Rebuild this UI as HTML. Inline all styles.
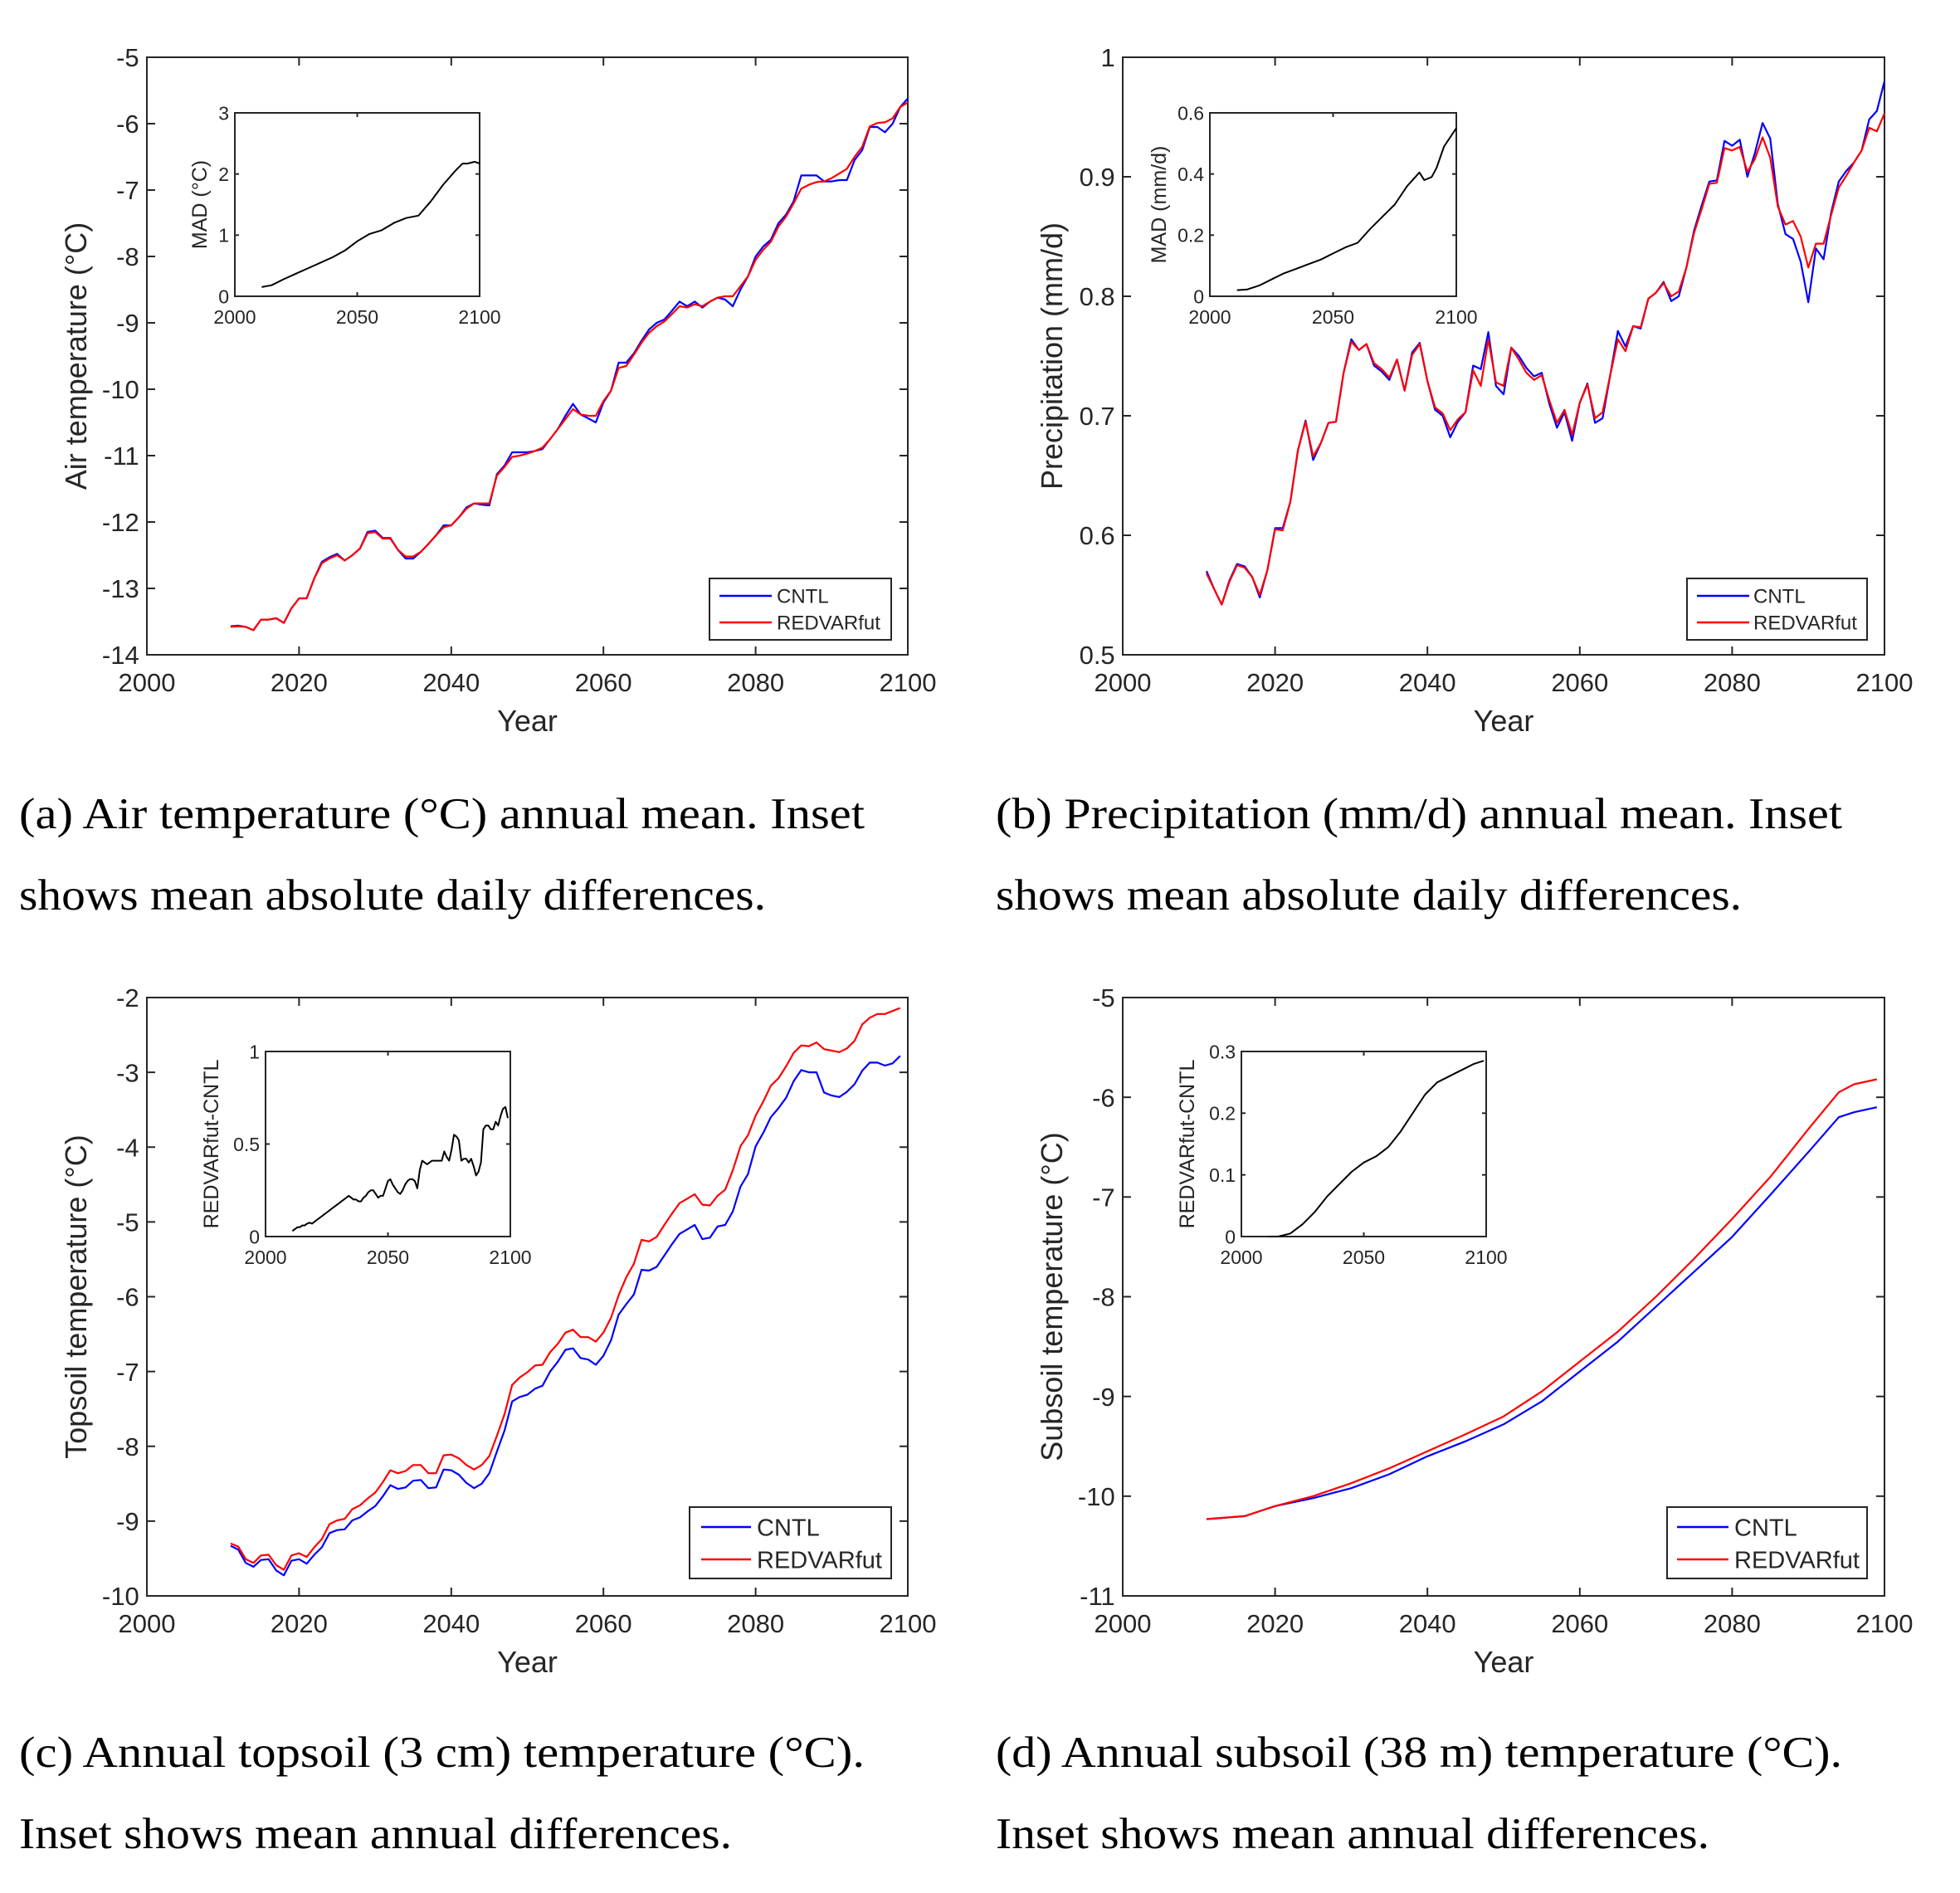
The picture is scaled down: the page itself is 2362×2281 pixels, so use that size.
<!DOCTYPE html>
<html><head><meta charset="utf-8">
<style>
html,body{margin:0;padding:0;background:#fff;}
svg{display:block;}
.tk{font-family:"Liberation Sans",Arial,sans-serif;fill:#262626;}
.cap{font-family:"Liberation Serif","Times New Roman",serif;fill:#000;font-size:53px;}
</style></head>
<body>
<svg id="fig" width="2362" height="2281" viewBox="0 0 2362 2281" xmlns="http://www.w3.org/2000/svg">
<text class="cap" x="23" y="998" textLength="1019" lengthAdjust="spacingAndGlyphs">(a) Air temperature (°C) annual mean. Inset</text>
<text class="cap" x="23" y="1096" textLength="900" lengthAdjust="spacingAndGlyphs">shows mean absolute daily differences.</text>
<text class="cap" x="1200" y="998" textLength="1020" lengthAdjust="spacingAndGlyphs">(b) Precipitation (mm/d) annual mean. Inset</text>
<text class="cap" x="1200" y="1096" textLength="899" lengthAdjust="spacingAndGlyphs">shows mean absolute daily differences.</text>
<text class="cap" x="23" y="2129" textLength="1019" lengthAdjust="spacingAndGlyphs">(c) Annual topsoil (3 cm) temperature (°C).</text>
<text class="cap" x="23" y="2227" textLength="859" lengthAdjust="spacingAndGlyphs">Inset shows mean annual differences.</text>
<text class="cap" x="1200" y="2129" textLength="1020" lengthAdjust="spacingAndGlyphs">(d) Annual subsoil (38 m) temperature (°C).</text>
<text class="cap" x="1200" y="2227" textLength="860" lengthAdjust="spacingAndGlyphs">Inset shows mean annual differences.</text>
</svg>
<script>
// ---- Panel (a) air temperature, years 2011..2100
const yearsA = Array.from({length:90},(_,i)=>2011+i);
const airRed = [-13.58,-13.57,-13.58,-13.63,-13.47,-13.47,-13.45,-13.52,-13.3,-13.15,
-13.15,-12.85,-12.62,-12.55,-12.5,-12.58,-12.5,-12.4,-12.17,-12.15,
-12.25,-12.25,-12.42,-12.52,-12.52,-12.45,-12.33,-12.2,-12.08,-12.05,
-11.93,-11.8,-11.72,-11.72,-11.72,-11.3,-11.17,-11.02,-11.0,-10.97,
-10.93,-10.88,-10.75,-10.6,-10.45,-10.3,-10.38,-10.4,-10.4,-10.18,
-10.02,-9.68,-9.65,-9.48,-9.3,-9.15,-9.05,-8.98,-8.87,-8.75,
-8.77,-8.72,-8.75,-8.68,-8.62,-8.6,-8.6,-8.45,-8.3,-8.05,
-7.9,-7.78,-7.55,-7.4,-7.2,-6.98,-6.92,-6.88,-6.87,-6.82,
-6.75,-6.68,-6.5,-6.35,-6.04,-5.99,-5.98,-5.92,-5.75,-5.68];
const airCntl = [-13.57,-13.56,-13.58,-13.63,-13.47,-13.47,-13.45,-13.52,-13.3,-13.15,
-13.15,-12.85,-12.6,-12.53,-12.48,-12.58,-12.5,-12.4,-12.15,-12.13,
-12.24,-12.24,-12.42,-12.55,-12.55,-12.45,-12.33,-12.2,-12.05,-12.05,
-11.93,-11.78,-11.72,-11.74,-11.75,-11.28,-11.15,-10.95,-10.95,-10.95,
-10.93,-10.9,-10.75,-10.6,-10.4,-10.22,-10.38,-10.44,-10.5,-10.2,
-10.02,-9.6,-9.6,-9.46,-9.27,-9.1,-9.0,-8.95,-8.82,-8.68,
-8.75,-8.68,-8.77,-8.68,-8.62,-8.65,-8.75,-8.5,-8.3,-8.0,
-7.85,-7.75,-7.5,-7.37,-7.17,-6.78,-6.78,-6.78,-6.87,-6.87,
-6.85,-6.85,-6.55,-6.4,-6.05,-6.05,-6.13,-6.0,-5.75,-5.62];
const madAYears = [2011,2015,2020,2025,2030,2035,2040,2045,2050,2055,2060,2065,2070,2075,2080,2085,2090,2093,2095,2098,2100];
const madAVals = [0.15,0.18,0.28,0.37,0.46,0.55,0.64,0.75,0.9,1.02,1.08,1.2,1.28,1.32,1.55,1.82,2.05,2.17,2.17,2.2,2.17];

// ---- Panel (b) precipitation, years 2011..2100
const yearsB = Array.from({length:90},(_,i)=>2011+i);
const prRed = [.568,.555,.542,.561,.575,.573,.565,.55,.571,.605,
.604,.628,.671,.695,.666,.677,.694,.695,.736,.762,
.755,.760,.744,.739,.732,.747,.721,.751,.760,.729,
.707,.702,.688,.697,.703,.738,.725,.764,.728,.725,
.757,.747,.736,.730,.734,.713,.694,.705,.684,.711,
.726,.698,.703,.734,.764,.754,.775,.774,.798,.803,
.811,.800,.804,.824,.853,.873,.894,.895,.924,.922,
.925,.904,.915,.933,.916,.875,.860,.863,.850,.824,
.844,.844,.868,.891,.901,.912,.922,.941,.938,.953];
const prCntl = [.570,.555,.542,.562,.576,.574,.565,.548,.571,.606,
.606,.628,.671,.696,.663,.677,.694,.695,.736,.764,
.755,.760,.742,.737,.730,.747,.721,.753,.761,.729,
.705,.700,.682,.695,.703,.742,.739,.770,.725,.718,
.757,.750,.740,.733,.736,.710,.690,.703,.679,.711,
.727,.694,.698,.734,.771,.758,.775,.773,.798,.803,
.812,.796,.800,.824,.855,.876,.896,.897,.930,.926,
.931,.900,.920,.945,.932,.877,.852,.848,.829,.795,
.840,.831,.870,.896,.905,.912,.922,.948,.955,.980];
const madBYears = [2011,2015,2020,2025,2030,2035,2040,2045,2050,2055,2060,2065,2070,2075,2080,2085,2087,2090,2092,2095,2100];
const madBVals = [0.02,0.022,0.035,0.055,0.075,0.09,0.105,0.12,0.14,0.16,0.175,0.22,0.26,0.3,0.36,0.405,0.38,0.39,0.42,0.49,0.55];

// ---- Panel (c) topsoil, years 2011..2099
const yearsC = Array.from({length:89},(_,i)=>2011+i);
const topRed = [-9.30,-9.34,-9.51,-9.56,-9.46,-9.45,-9.59,-9.65,-9.46,-9.43,
-9.48,-9.35,-9.24,-9.04,-8.99,-8.97,-8.84,-8.79,-8.70,-8.62,
-8.48,-8.32,-8.36,-8.33,-8.25,-8.25,-8.36,-8.36,-8.12,-8.11,
-8.16,-8.25,-8.31,-8.25,-8.13,-7.86,-7.57,-7.18,-7.08,-7.01,
-6.92,-6.91,-6.74,-6.63,-6.48,-6.44,-6.54,-6.54,-6.60,-6.48,
-6.28,-5.98,-5.74,-5.56,-5.24,-5.26,-5.20,-5.04,-4.89,-4.75,
-4.69,-4.63,-4.77,-4.78,-4.65,-4.57,-4.31,-3.99,-3.84,-3.58,
-3.39,-3.18,-3.08,-2.92,-2.74,-2.64,-2.65,-2.60,-2.69,-2.71,
-2.73,-2.68,-2.58,-2.36,-2.27,-2.22,-2.22,-2.18,-2.14];
const topCntl = [-9.33,-9.38,-9.56,-9.61,-9.52,-9.51,-9.66,-9.725,-9.53,-9.51,
-9.57,-9.45,-9.35,-9.16,-9.12,-9.11,-8.99,-8.95,-8.87,-8.80,
-8.67,-8.52,-8.57,-8.55,-8.46,-8.45,-8.56,-8.55,-8.31,-8.32,
-8.38,-8.49,-8.56,-8.50,-8.36,-8.07,-7.79,-7.40,-7.34,-7.31,
-7.23,-7.19,-7.00,-6.87,-6.71,-6.69,-6.82,-6.84,-6.91,-6.79,
-6.58,-6.24,-6.10,-5.97,-5.64,-5.65,-5.60,-5.45,-5.30,-5.16,
-5.10,-5.04,-5.23,-5.21,-5.06,-5.04,-4.86,-4.53,-4.36,-3.99,
-3.81,-3.60,-3.48,-3.34,-3.12,-2.97,-3.00,-3.00,-3.27,-3.31,
-3.33,-3.26,-3.16,-2.98,-2.87,-2.87,-2.91,-2.88,-2.78];
const diffCVals = [.03,.04,.05,.05,.06,.06,.07,.075,.07,.08,
.09,.1,.11,.12,.13,.14,.15,.16,.17,.18,
.19,.2,.21,.22,.21,.2,.2,.19,.19,.21,
.22,.24,.25,.25,.23,.21,.22,.22,.26,.3,
.31,.28,.26,.24,.23,.25,.28,.3,.31,.31,
.3,.26,.36,.41,.4,.39,.4,.41,.41,.41,
.41,.41,.46,.43,.41,.47,.55,.54,.52,.41,
.42,.42,.4,.42,.38,.33,.35,.4,.58,.6,
.6,.58,.58,.62,.6,.65,.69,.7,.64];

// ---- Panel (d) subsoil
const yearsD = [2011,2016,2020,2025,2030,2035,2040,2045,2050,2055,2060,2065,2070,2075,2080,2085,2090,2094,2096,2099];
const subRed = [-10.23,-10.2,-10.1,-10.0,-9.87,-9.72,-9.55,-9.38,-9.2,-8.95,-8.65,-8.35,-8.0,-7.62,-7.22,-6.8,-6.32,-5.95,-5.87,-5.82];
const subCntl = [-10.23,-10.2,-10.1,-10.02,-9.92,-9.78,-9.6,-9.45,-9.28,-9.05,-8.75,-8.45,-8.1,-7.75,-7.4,-6.98,-6.55,-6.2,-6.15,-6.1];
const diffDYears = [2011,2015,2020,2025,2030,2035,2040,2045,2050,2055,2060,2065,2070,2075,2080,2085,2090,2095,2099];
const diffDVals = [0,0,0.005,0.02,0.04,0.065,0.085,0.105,0.12,0.13,0.145,0.17,0.2,0.23,0.25,0.26,0.27,0.28,0.285];

const mainXTicks = [2000,2020,2040,2060,2080,2100];
const insetXTicks = [2000,2050,2100];
const ticksA = [-14,-13,-12,-11,-10,-9,-8,-7,-6,-5];
const ticksB = [0.5,0.6,0.7,0.8,0.9,1];
const ticksC = [-10,-9,-8,-7,-6,-5,-4,-3,-2];
const ticksD = [-11,-10,-9,-8,-7,-6,-5];
const insetTicksA = [0,1,2,3];
const insetTicksB = [0,0.2,0.4,0.6];
const insetTicksC = [0,0.5,1];
const insetTicksD = [0,0.1,0.2,0.3];

const NS = 'http://www.w3.org/2000/svg';
const svg = document.getElementById('fig');
function el(tag, attrs, parent){
  const e = document.createElementNS(NS, tag);
  for (const k in attrs) e.setAttribute(k, attrs[k]);
  (parent||svg).appendChild(e);
  return e;
}
function txt(s, x, y, size, anchor, parent, rot){
  const t = el('text', {x:x, y:y, 'font-size':size, 'text-anchor':anchor, class:'tk'}, parent);
  if (rot) t.setAttribute('transform', 'rotate(-90 '+x+' '+y+')');
  t.textContent = s;
  return t;
}
function axes(name, L, R, T, B, xmin, xmax, ymin, ymax, xt, yt, fs, tl, xoff){
  const g = el('g', {});
  
  
  const sx = v => L + (v - xmin) / (xmax - xmin) * (R - L);
  const sy = v => B - (v - ymin) / (ymax - ymin) * (B - T);
  el('rect', {x:L, y:T, width:R-L, height:B-T, fill:'#fff', stroke:'#262626', 'stroke-width':2}, g);
  xt.forEach(v => {
    const x = sx(v);
    el('line', {x1:x, y1:B, x2:x, y2:B-tl, stroke:'#262626', 'stroke-width':2}, g);
    el('line', {x1:x, y1:T, x2:x, y2:T+tl, stroke:'#262626', 'stroke-width':2}, g);
    const t = txt(String(v), x, B + xoff, fs, 'middle', g);
    
    
  });
  yt.forEach(v => {
    const y = sy(v);
    el('line', {x1:L, y1:y, x2:L+tl, y2:y, stroke:'#262626', 'stroke-width':2}, g);
    el('line', {x1:R, y1:y, x2:R-tl, y2:y, stroke:'#262626', 'stroke-width':2}, g);
    const t = txt(String(v), L - fs*0.3, y + fs*0.36, fs, 'end', g);
    
    
  });
  return {g, sx, sy};
}
function series(ax, xs, ys, color, w, name){
  const d = xs.map((x,i)=>(i?'L':'M')+ax.sx(x).toFixed(1)+' '+ax.sy(ys[i]).toFixed(1)).join(' ');
  const p = el('path', {d:d, fill:'none', stroke:color, 'stroke-width':w, 'stroke-linejoin':'round'}, ax.g);
  
  
}
function legend(name, x, y, w, h, lx1, lx2, tx, r1, r2, fs){
  const g = el('g', {});
  
  
  el('rect', {x:x, y:y, width:w, height:h, fill:'#fff', stroke:'#262626', 'stroke-width':2}, g);
  el('line', {x1:lx1, y1:r1, x2:lx2, y2:r1, stroke:'#0000ff', 'stroke-width':2.5}, g);
  el('line', {x1:lx1, y1:r2, x2:lx2, y2:r2, stroke:'#ff0000', 'stroke-width':2.5}, g);
  const a = txt('CNTL', tx, r1 + fs*0.36, fs, 'start', g);
  
  
  const b = txt('REDVARfut', tx, r2 + fs*0.36, fs, 'start', g);
  
  
}
function labels(ax, L, R, T, B, xl, yl, yx, fs){
  if (xl){
    const t = txt(xl, (L+R)/2, B + 92, fs, 'middle', ax.g);
    
    
  }
  const t2 = txt(yl, yx, (T+B)/2, fs, 'middle', ax.g, true);
  
  
}

// Panel a
let ax = axes('panel-a-axes', 177, 1094, 69, 789, 2000, 2100, -14, -5, mainXTicks, ticksA, 31, 10, 44);
series(ax, yearsA, airCntl, '#0000ff', 2.2, 'cntl-line-a');
series(ax, yearsA, airRed, '#ff0000', 2.2, 'redvarfut-line-a');
labels(ax, 177, 1094, 69, 789, 'Year', 'Air temperature (°C)', 104, 36);
legend('legend-a', 855, 697, 219, 74, 867, 930, 936, 718, 750, 24);
let ins = axes('inset-a', 283, 578, 136, 357, 2000, 2100, 0, 3, insetXTicks, insetTicksA, 23, 5, 33);
series(ins, madAYears, madAVals, '#000', 2, 'mad-line-a');
labels(ins, 283, 578, 136, 357, null, 'MAD (°C)', 249, 25);

// Panel b
ax = axes('panel-b-axes', 1353, 2271, 69, 789, 2000, 2100, 0.5, 1, mainXTicks, ticksB, 31, 10, 44);
series(ax, yearsB, prCntl, '#0000ff', 2.2, 'cntl-line-b');
series(ax, yearsB, prRed, '#ff0000', 2.2, 'redvarfut-line-b');
labels(ax, 1353, 2271, 69, 789, 'Year', 'Precipitation (mm/d)', 1280, 36);
legend('legend-b', 2033, 697, 217, 74, 2045, 2108, 2113, 718, 750, 24);
ins = axes('inset-b', 1458, 1755, 136, 357, 2000, 2100, 0, 0.6, insetXTicks, insetTicksB, 23, 5, 33);
series(ins, madBYears, madBVals, '#000', 2, 'mad-line-b');
labels(ins, 1458, 1755, 136, 357, null, 'MAD (mm/d)', 1405, 25);

// Panel c
ax = axes('panel-c-axes', 177, 1094, 1202, 1923, 2000, 2100, -10, -2, mainXTicks, ticksC, 31, 10, 44);
series(ax, yearsC, topCntl, '#0000ff', 2.2, 'cntl-line-c');
series(ax, yearsC, topRed, '#ff0000', 2.2, 'redvarfut-line-c');
labels(ax, 177, 1094, 1202, 1923, 'Year', 'Topsoil temperature (°C)', 104, 36);
legend('legend-c', 831, 1816, 243, 86, 845, 905, 912, 1840, 1879, 29);
ins = axes('inset-c', 320, 615, 1267, 1490, 2000, 2100, 0, 1, insetXTicks, insetTicksC, 23, 5, 33);
series(ins, yearsC, diffCVals, '#000', 2, 'diff-line-c');
labels(ins, 320, 615, 1267, 1490, null, 'REDVARfut-CNTL', 263, 25);

// Panel d
ax = axes('panel-d-axes', 1353, 2271, 1202, 1923, 2000, 2100, -11, -5, mainXTicks, ticksD, 31, 10, 44);
series(ax, yearsD, subCntl, '#0000ff', 2.2, 'cntl-line-d');
series(ax, yearsD, subRed, '#ff0000', 2.2, 'redvarfut-line-d');
labels(ax, 1353, 2271, 1202, 1923, 'Year', 'Subsoil temperature (°C)', 1280, 36);
legend('legend-d', 2009, 1816, 241, 86, 2021, 2083, 2090, 1840, 1879, 29);
ins = axes('inset-d', 1496, 1791, 1267, 1490, 2000, 2100, 0, 0.3, insetXTicks, insetTicksD, 23, 5, 33);
series(ins, diffDYears, diffDVals, '#000', 2, 'diff-line-d');
labels(ins, 1496, 1791, 1267, 1490, null, 'REDVARfut-CNTL', 1439, 25);
</script>
</body></html>
